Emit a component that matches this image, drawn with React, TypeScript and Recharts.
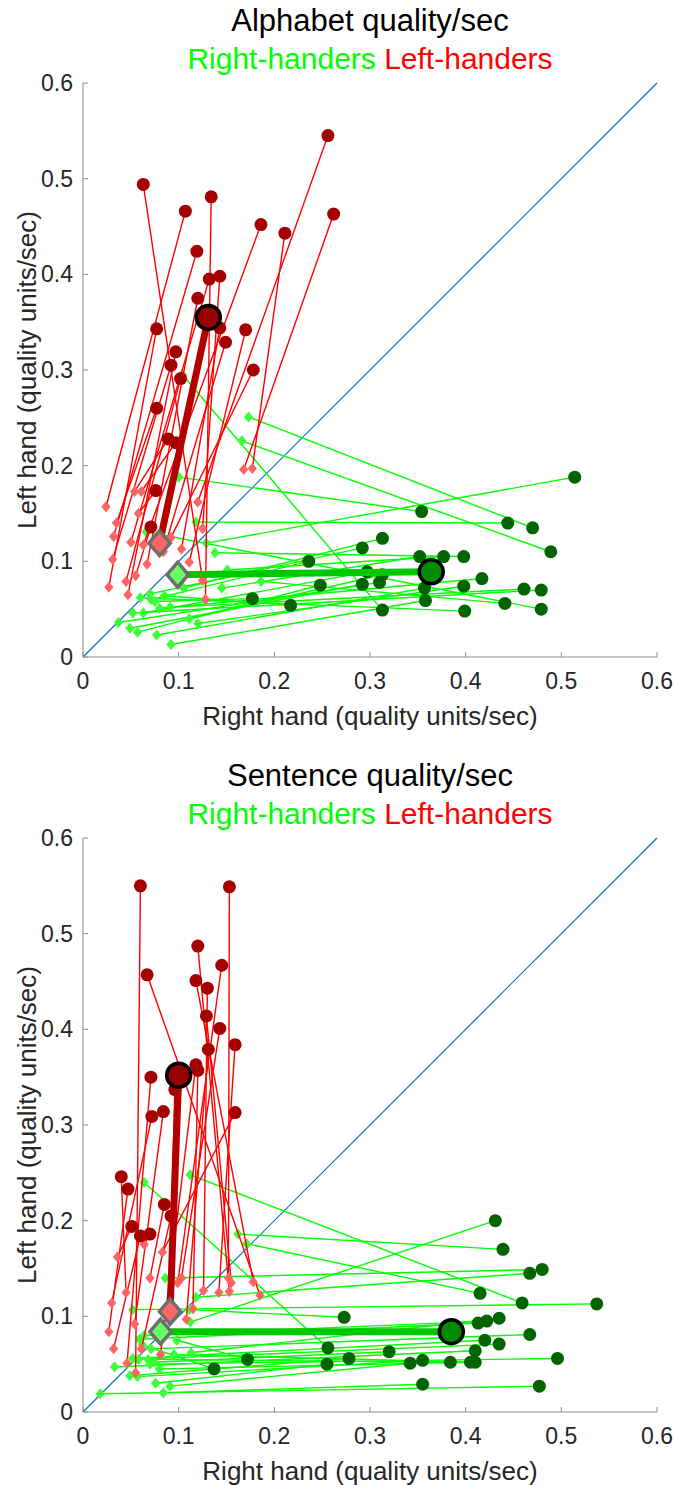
import { ScatterChart, Scatter, XAxis, YAxis, ReferenceLine } from "recharts";

type Pt = [number, number];

const axisTicks = [0, 0.1, 0.2, 0.3, 0.4, 0.5, 0.6];

// Alphabet task, right-handers: diamond end and circle end of each subject (same index)
const alphaRightDiamonds: Pt[] = [
  [0.104, 0.295], [0.173, 0.251], [0.166, 0.226], [0.1, 0.188], [0.118, 0.141],
  [0.129, 0.119], [0.138, 0.109], [0.151, 0.091], [0.145, 0.072], [0.105, 0.072],
  [0.07, 0.066], [0.071, 0.06], [0.08, 0.051], [0.091, 0.052], [0.052, 0.046],
  [0.063, 0.046], [0.111, 0.04], [0.12, 0.035], [0.037, 0.036], [0.049, 0.03],
  [0.057, 0.026], [0.077, 0.023], [0.092, 0.013], [0.186, 0.079], [0.066, 0.131],
  [0.06, 0.062], [0.085, 0.064], [0.075, 0.058],
];
const alphaRightCircles: Pt[] = [
  [0.313, 0.049], [0.47, 0.135], [0.489, 0.11], [0.354, 0.152], [0.444, 0.14],
  [0.514, 0.188], [0.398, 0.105], [0.377, 0.105], [0.352, 0.105], [0.313, 0.124],
  [0.292, 0.114], [0.236, 0.1], [0.417, 0.082], [0.461, 0.071], [0.479, 0.07],
  [0.297, 0.089], [0.313, 0.086], [0.398, 0.074], [0.31, 0.078], [0.292, 0.076],
  [0.248, 0.075], [0.357, 0.072], [0.358, 0.059], [0.441, 0.056], [0.479, 0.05],
  [0.399, 0.048], [0.217, 0.054], [0.177, 0.061],
];
const alphaLeftDiamonds: Pt[] = [
  [0.12, 0.162], [0.168, 0.196], [0.125, 0.08], [0.024, 0.157], [0.128, 0.06],
  [0.063, 0.117], [0.177, 0.197], [0.032, 0.126], [0.05, 0.12], [0.125, 0.134],
  [0.067, 0.097], [0.103, 0.113], [0.111, 0.099], [0.027, 0.073], [0.084, 0.11],
  [0.047, 0.065], [0.031, 0.102], [0.092, 0.125], [0.045, 0.079], [0.035, 0.14],
  [0.054, 0.173], [0.061, 0.173], [0.058, 0.15], [0.055, 0.085],
];
const alphaLeftCircles: Pt[] = [
  [0.256, 0.545], [0.262, 0.463], [0.063, 0.494], [0.107, 0.466], [0.134, 0.481],
  [0.186, 0.452], [0.211, 0.443], [0.119, 0.424], [0.132, 0.395], [0.143, 0.398],
  [0.12, 0.375], [0.143, 0.344], [0.17, 0.342], [0.077, 0.343], [0.149, 0.329],
  [0.097, 0.319], [0.092, 0.305], [0.178, 0.3], [0.102, 0.291], [0.077, 0.26],
  [0.089, 0.228], [0.097, 0.224], [0.076, 0.174], [0.071, 0.136],
];
const alphaRightMean: Pt[] = [[0.099, 0.086], [0.364, 0.089]];
const alphaLeftMean: Pt[] = [[0.08, 0.119], [0.131, 0.355]];

// Sentence task
const sentRightDiamonds: Pt[] = [
  [0.112, 0.248], [0.064, 0.24], [0.162, 0.186], [0.171, 0.176], [0.112, 0.094],
  [0.086, 0.14], [0.118, 0.12], [0.052, 0.107], [0.111, 0.107], [0.059, 0.076],
  [0.064, 0.08], [0.113, 0.062], [0.071, 0.066], [0.052, 0.056], [0.058, 0.055],
  [0.075, 0.052], [0.033, 0.047], [0.049, 0.038], [0.076, 0.03], [0.091, 0.027],
  [0.084, 0.02], [0.018, 0.019], [0.057, 0.037], [0.068, 0.055], [0.08, 0.045],
  [0.095, 0.06], [0.07, 0.05], [0.062, 0.07], [0.098, 0.075],
];
const sentRightCircles: Pt[] = [
  [0.459, 0.114], [0.256, 0.067], [0.439, 0.17], [0.415, 0.124], [0.431, 0.2],
  [0.48, 0.149], [0.467, 0.145], [0.537, 0.113], [0.273, 0.099], [0.413, 0.093],
  [0.422, 0.095], [0.435, 0.098], [0.467, 0.081], [0.42, 0.075], [0.435, 0.071],
  [0.32, 0.063], [0.41, 0.064], [0.278, 0.056], [0.255, 0.05], [0.342, 0.051],
  [0.355, 0.029], [0.477, 0.027], [0.355, 0.054], [0.384, 0.052], [0.405, 0.052],
  [0.41, 0.052], [0.496, 0.056], [0.137, 0.045], [0.172, 0.055],
];
const sentLeftDiamonds: Pt[] = [
  [0.055, 0.041], [0.152, 0.14], [0.153, 0.126], [0.099, 0.135], [0.185, 0.122],
  [0.178, 0.136], [0.126, 0.127], [0.155, 0.135], [0.103, 0.14], [0.142, 0.125],
  [0.108, 0.097], [0.081, 0.06], [0.115, 0.108], [0.046, 0.051], [0.09, 0.11],
  [0.054, 0.092], [0.03, 0.114], [0.083, 0.167], [0.045, 0.125], [0.027, 0.084],
  [0.07, 0.14], [0.061, 0.066], [0.036, 0.162], [0.032, 0.066], [0.064, 0.175],
];
const sentLeftCircles: Pt[] = [
  [0.06, 0.55], [0.153, 0.549], [0.12, 0.487], [0.145, 0.467], [0.067, 0.457],
  [0.118, 0.451], [0.13, 0.443], [0.129, 0.414], [0.143, 0.401], [0.159, 0.384],
  [0.131, 0.379], [0.118, 0.363], [0.12, 0.357], [0.071, 0.35], [0.096, 0.337],
  [0.084, 0.314], [0.072, 0.309], [0.159, 0.313], [0.04, 0.246], [0.047, 0.233],
  [0.085, 0.217], [0.092, 0.205], [0.051, 0.194], [0.06, 0.184], [0.07, 0.186],
];
const sentRightMean: Pt[] = [[0.081, 0.084], [0.385, 0.084]];
const sentLeftMean: Pt[] = [[0.091, 0.105], [0.1, 0.352]];

const toXY = (pts: Pt[]) => pts.map(([x, y]) => ({ x, y }));

const noDot = () => <g />;

const diamond = (fill: string, s: number, stroke?: string, sw?: number) => (p: any) =>
  (
    <polygon
      points={`${p.cx},${p.cy - s} ${p.cx + s * 0.85},${p.cy} ${p.cx},${p.cy + s} ${p.cx - s * 0.85},${p.cy}`}
      fill={fill}
      stroke={stroke || "none"}
      strokeWidth={sw || 0}
      strokeLinejoin="miter"
    />
  );

const dot = (fill: string, r: number, stroke?: string, sw?: number) => (p: any) =>
  <circle cx={p.cx} cy={p.cy} r={r} fill={fill} stroke={stroke || "none"} strokeWidth={sw || 0} />;

function Group({ diamonds, circles, lineColor, diamondColor, circleColor, prefix }: any) {
  return [
    ...diamonds.map((d: Pt, i: number) => (
      <Scatter
        key={`${prefix}-l${i}`}
        data={toXY([d, circles[i]])}
        line={{ stroke: lineColor, strokeWidth: 1.4 }}
        lineType="joint"
        shape={noDot}
        isAnimationActive={false}
      />
    )),
    <Scatter key={`${prefix}-d`} data={toXY(diamonds)} shape={diamond(diamondColor, 5.5)} isAnimationActive={false} />,
    <Scatter key={`${prefix}-c`} data={toXY(circles)} shape={dot(circleColor, 6.5)} isAnimationActive={false} />,
  ];
}

function Panel({ title, rd, rc, ld, lc, rMean, lMean }: any) {
  const W = 674;
  const H = 730;
  return (
    <div style={{ position: "relative", width: W, height: H }}>
      <ScatterChart width={W} height={H} margin={{ top: 83, right: 17, bottom: 0, left: 0 }}>
        <XAxis
          type="number"
          dataKey="x"
          domain={[0, 0.6]}
          ticks={axisTicks}
          interval={0}
          allowDataOverflow
          height={73}
          stroke="#8c8c8c"
          tickSize={-5}
          tickMargin={21}
          tick={{ fill: "#262626", fontSize: 23 }}
          label={{
            value: "Right hand (quality units/sec)",
            position: "insideBottom",
            offset: 5,
            fill: "#262626",
            fontSize: 26,
          }}
        />
        <YAxis
          type="number"
          dataKey="y"
          domain={[0, 0.6]}
          ticks={axisTicks}
          interval={0}
          allowDataOverflow
          width={83}
          stroke="#8c8c8c"
          tickSize={-5}
          tickMargin={15}
          tick={{ fill: "#262626", fontSize: 23 }}
        />
        <ReferenceLine
          segment={[{ x: 0, y: 0 }, { x: 0.6, y: 0.6 }]}
          stroke="#0072BD"
          strokeWidth={1.2}
        />
        {Group({ diamonds: rd, circles: rc, lineColor: "#00ff00", diamondColor: "#38ff38", circleColor: "#006400", prefix: "r" })}
        {Group({ diamonds: ld, circles: lc, lineColor: "#ff0000", diamondColor: "#ff6464", circleColor: "#a50000", prefix: "l" })}
        <Scatter
          data={toXY(lMean)}
          line={{ stroke: "#b40000", strokeWidth: 7 }}
          lineType="joint"
          shape={noDot}
          isAnimationActive={false}
        />
        <Scatter
          data={toXY(rMean)}
          line={{ stroke: "#00c800", strokeWidth: 7 }}
          lineType="joint"
          shape={noDot}
          isAnimationActive={false}
        />
        <Scatter data={toXY([lMean[0]])} shape={diamond("#ff6666", 12.5, "#6e6e6e", 3.5)} isAnimationActive={false} />
        <Scatter data={toXY([rMean[0]])} shape={diamond("#66ff66", 12.5, "#6e6e6e", 3.5)} isAnimationActive={false} />
        <Scatter data={toXY([lMean[1]])} shape={dot("#990000", 12, "#000000", 3.5)} isAnimationActive={false} />
        <Scatter data={toXY([rMean[1]])} shape={dot("#008c00", 12, "#000000", 3.5)} isAnimationActive={false} />
      </ScatterChart>
      <svg
        width={W}
        height={H}
        style={{ position: "absolute", left: 0, top: 0, pointerEvents: "none" }}
      >
        <text x={370} y={31} textAnchor="middle" fontSize={31} fill="#000">
          {title}
        </text>
        <text x={370} y={69} textAnchor="middle" fontSize={30}>
          <tspan fill="#00ff00">Right-handers</tspan>
          <tspan fill="#ff0000"> Left-handers</tspan>
        </text>
        <text
          x={36}
          y={370}
          textAnchor="middle"
          fontSize={26}
          fill="#262626"
          transform="rotate(-90, 36, 370)"
        >
          Left hand (quality units/sec)
        </text>
      </svg>
    </div>
  );
}

export default function App() {
  return (
    <div
      style={{
        position: "absolute",
        left: 0,
        top: 0,
        width: 674,
        height: 1485,
        background: "#fff",
        fontFamily: "'Liberation Sans', Arial, sans-serif",
      }}
    >
      <Panel
        title="Alphabet quality/sec"
        rd={alphaRightDiamonds}
        rc={alphaRightCircles}
        ld={alphaLeftDiamonds}
        lc={alphaLeftCircles}
        rMean={alphaRightMean}
        lMean={alphaLeftMean}
      />
      <div style={{ height: 25 }} />
      <Panel
        title="Sentence quality/sec"
        rd={sentRightDiamonds}
        rc={sentRightCircles}
        ld={sentLeftDiamonds}
        lc={sentLeftCircles}
        rMean={sentRightMean}
        lMean={sentLeftMean}
      />
    </div>
  );
}
